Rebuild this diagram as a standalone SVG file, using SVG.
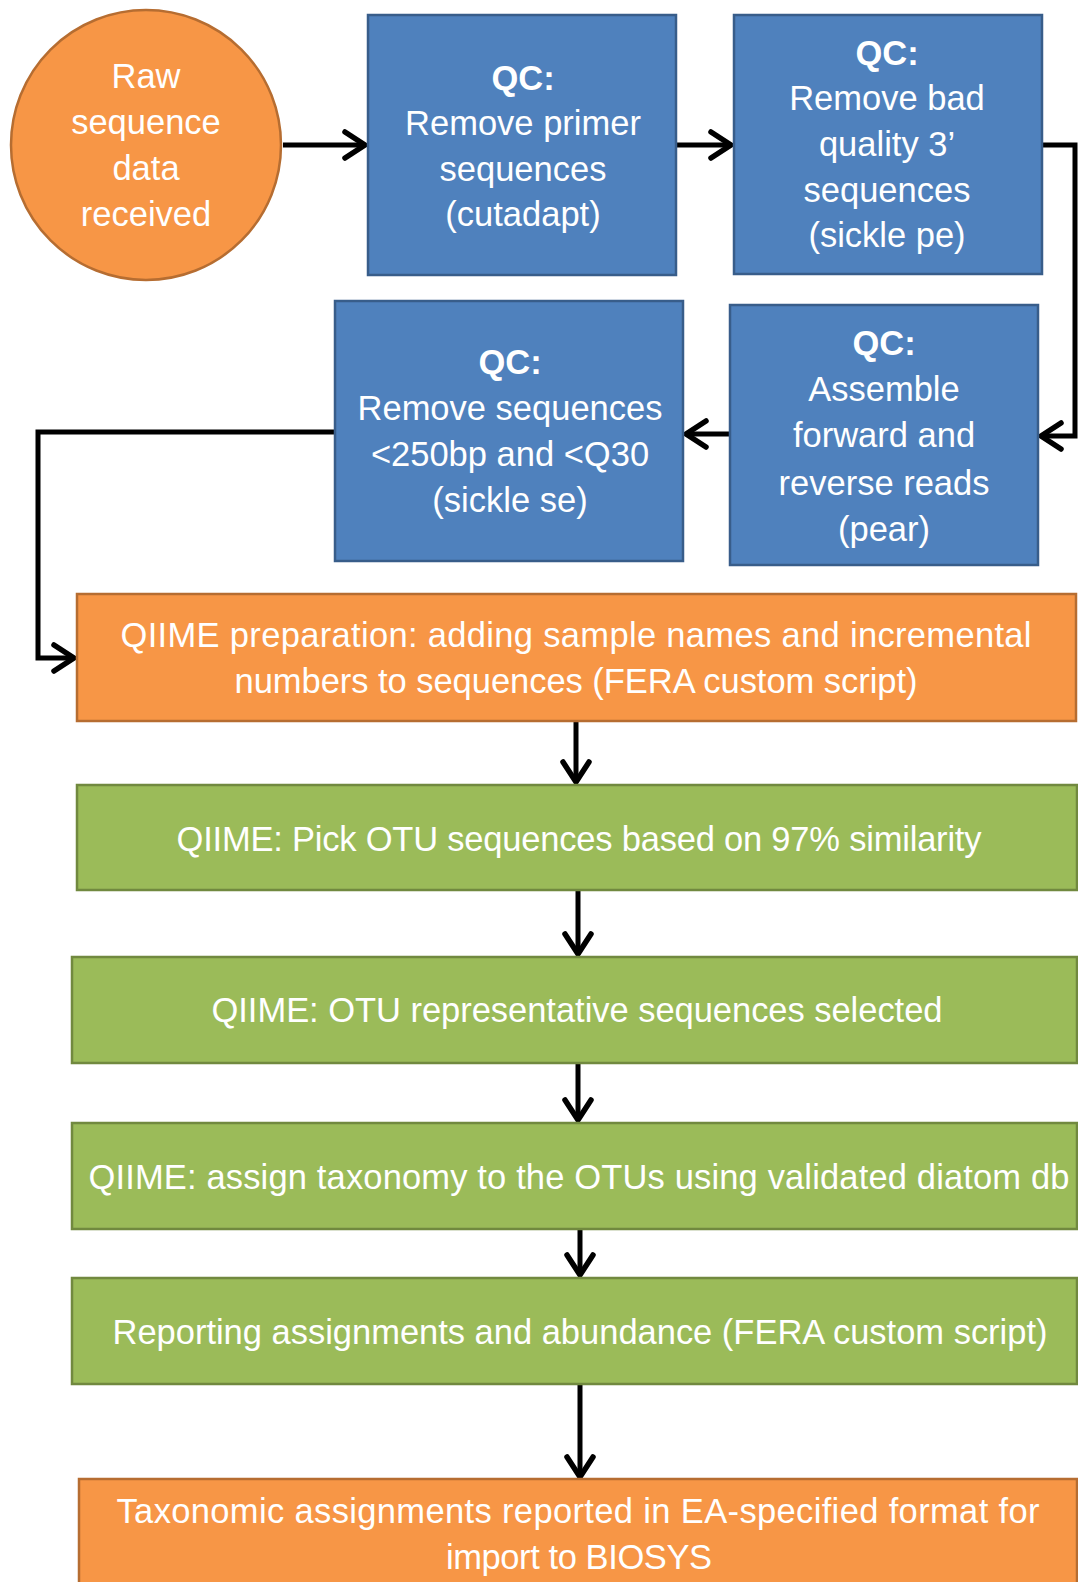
<svg xmlns="http://www.w3.org/2000/svg" width="1078" height="1582" viewBox="0 0 1078 1582">
<style>
text{font-family:"Liberation Sans",Arial,sans-serif;font-size:34.5px;fill:#fff;text-anchor:middle}
.b{font-weight:bold}
.or{fill:#F79646;stroke:#B66D31;stroke-width:2.5}
.bl{fill:#4F81BD;stroke:#385D8A;stroke-width:2.5}
.gr{fill:#9BBB59;stroke:#71893F;stroke-width:2.5}
.c{fill:none;stroke:#000;stroke-width:5;stroke-linejoin:miter}
</style>
<defs>
<marker id="ah" markerUnits="userSpaceOnUse" markerWidth="40" markerHeight="40" viewBox="-30 -20 40 40" refX="0" refY="0" orient="auto" overflow="visible">
<path d="M-20,-13 L0,0 L-20,13" fill="none" stroke="#000" stroke-width="5.5" stroke-linecap="round" stroke-linejoin="round"/>
</marker>
</defs>
<rect width="1078" height="1582" fill="#fff"/>
<g id="connectors">
<path class="c" d="M283,145 H365" marker-end="url(#ah)"/>
<path class="c" d="M676,145 H731" marker-end="url(#ah)"/>
<path class="c" d="M1042,145 H1075 V436 H1041" marker-end="url(#ah)"/>
<path class="c" d="M730,434 H686" marker-end="url(#ah)"/>
<path class="c" d="M335,432 H38 V658 H74" marker-end="url(#ah)"/>
<path class="c" d="M576,721 V782" marker-end="url(#ah)"/>
<path class="c" d="M578,890 V954" marker-end="url(#ah)"/>
<path class="c" d="M578,1063 V1120" marker-end="url(#ah)"/>
<path class="c" d="M580,1229 V1275" marker-end="url(#ah)"/>
<path class="c" d="M580,1384 V1477" marker-end="url(#ah)"/>
</g>
<g id="raw">
<circle class="or" cx="146" cy="145" r="135"/>
<text x="146" y="88">Raw</text>
<text x="146" y="134">sequence</text>
<text x="146" y="180">data</text>
<text x="146" y="226">received</text>
</g>
<g id="qc1">
<rect class="bl" x="368" y="15" width="308" height="260"/>
<text class="b" x="523" y="90">QC:</text>
<text x="523" y="135">Remove primer</text>
<text x="523" y="181">sequences</text>
<text x="523" y="226">(cutadapt)</text>
</g>
<g id="qc2">
<rect class="bl" x="734" y="15" width="308" height="259"/>
<text class="b" x="887" y="65">QC:</text>
<text x="887" y="110">Remove bad</text>
<text x="887" y="156">quality 3’</text>
<text x="887" y="202">sequences</text>
<text x="887" y="247">(sickle pe)</text>
</g>
<g id="qc4">
<rect class="bl" x="335" y="301" width="348" height="260"/>
<text class="b" x="510" y="374">QC:</text>
<text x="510" y="420">Remove sequences</text>
<text x="510" y="466">&lt;250bp and &lt;Q30</text>
<text x="510" y="512">(sickle se)</text>
</g>
<g id="qc3">
<rect class="bl" x="730" y="305" width="308" height="260"/>
<text class="b" x="884" y="355">QC:</text>
<text x="884" y="401">Assemble</text>
<text x="884" y="447">forward and</text>
<text x="884" y="495">reverse reads</text>
<text x="884" y="541">(pear)</text>
</g>
<g id="prep">
<rect class="or" x="77" y="594" width="999" height="127"/>
<text x="576" y="647" textLength="911">QIIME preparation: adding sample names and incremental</text>
<text x="576" y="693" textLength="683">numbers to sequences (FERA custom script)</text>
</g>
<g id="pick">
<rect class="gr" x="77" y="785" width="1000" height="105"/>
<text x="579" y="851" textLength="805">QIIME: Pick OTU sequences based on 97% similarity</text>
</g>
<g id="rep">
<rect class="gr" x="72" y="957" width="1005" height="106"/>
<text x="577" y="1022" textLength="731">QIIME: OTU representative sequences selected</text>
</g>
<g id="assign">
<rect class="gr" x="72" y="1123" width="1005" height="106"/>
<text x="579" y="1189" textLength="981">QIIME: assign taxonomy to the OTUs using validated diatom db</text>
</g>
<g id="report">
<rect class="gr" x="72" y="1278" width="1005" height="106"/>
<text x="580" y="1344" textLength="935">Reporting assignments and abundance (FERA custom script)</text>
</g>
<g id="final">
<rect class="or" x="79" y="1479" width="998" height="120"/>
<text x="578" y="1523" textLength="923">Taxonomic assignments reported in EA-specified format for</text>
<text x="579" y="1569" textLength="266">import to BIOSYS</text>
</g>
</svg>
